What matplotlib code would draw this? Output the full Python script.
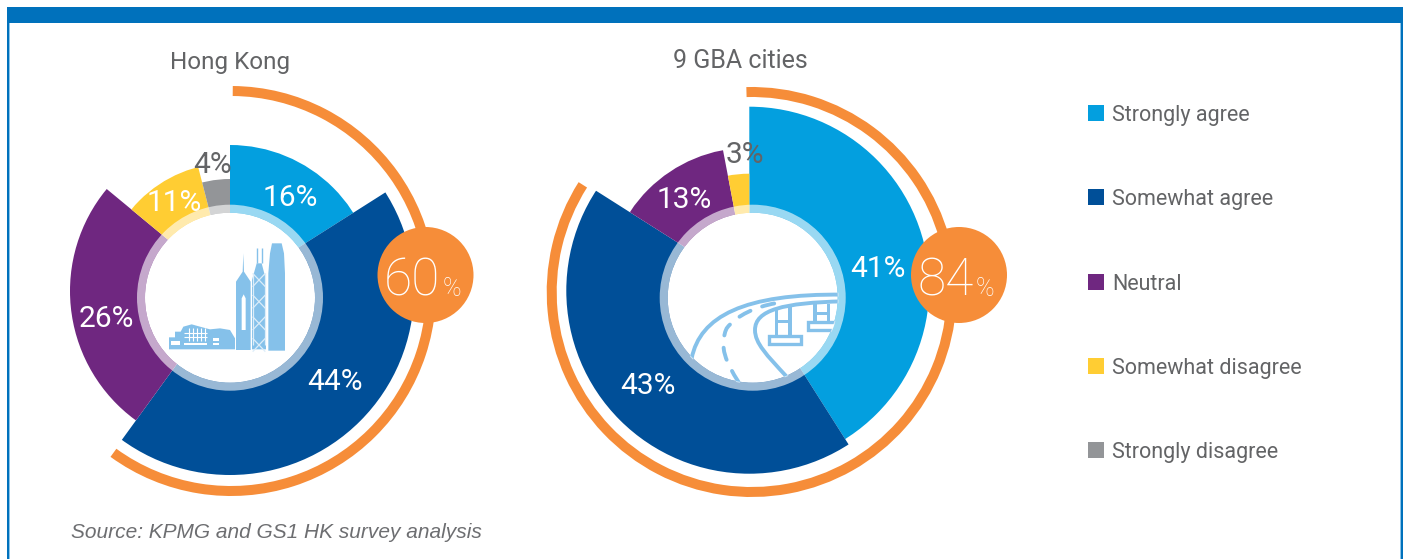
import numpy as np
import matplotlib
matplotlib.use('Agg')
import matplotlib.pyplot as plt
from matplotlib.patches import Wedge, Circle, Rectangle, Polygon, PathPatch
from matplotlib.path import Path

categories = ['Strongly agree', 'Somewhat agree', 'Neutral', 'Somewhat disagree', 'Strongly disagree']
colors = ['#039fdf', '#004f98', '#6f2780', '#ffcd33', '#939598']
titles = ['Hong Kong', '9 GBA cities']
hk_values = [16, 44, 26, 11, 4]
gba_values = [41, 43, 13, 3, 0]
hk_agree = 60
gba_agree = 84
# printed hk labels add up to 101, the yellow slice is really drawn as 10
hk_sweep = [16, 44, 26, 10, 4]
gba_sweep = [41, 43, 13, 3, 0]
source = 'Source: KPMG and GS1 HK survey analysis'

TEXT = '#636466'
ORANGE = '#f68d39'
ICON = '#85c1ea'
FONT = ['Roboto', 'DejaVu Sans']

fig = plt.figure(figsize=(14.07, 5.59), dpi=100)
ax = fig.add_axes([0, 0, 1, 1])
ax.set_xlim(0, 1407)
ax.set_ylim(559, 0)
ax.axis('off')


def sector(apex, arc_c, r, a0, a1, color):
    '''slice from apex, its round edge is cut by a circle which may sit off the apex'''
    w = Wedge(apex, 400, -90 + a0 * 3.6, -90 + a1 * 3.6, fc=color, ec='none', zorder=2)
    ax.add_patch(w)
    w.set_clip_path(Circle(arc_c, r, transform=ax.transData))


def donut(apex, arc_centers, radii, sweep, values, label_pos, ring_c):
    start = 0
    for i in range(len(sweep)):
        if sweep[i] > 0:
            sector(apex, arc_centers[i], radii[i], start, start + sweep[i], colors[i])
        start += sweep[i]
    ax.add_patch(Circle(ring_c, 85, fc='white', ec='none', zorder=3))
    ax.add_patch(Wedge(ring_c, 93, 0, 360, width=8, fc='white', ec='none', alpha=0.6, zorder=5))
    for i in range(len(values)):
        if values[i] > 0:
            c = TEXT if values[i] <= 4 else 'white'
            ax.text(label_pos[i][0], label_pos[i][1], str(values[i]) + '%', color=c, fontsize=21.5,
                    family=FONT, ha='center', va='baseline', zorder=6)


def agree_arc(center, agree, bubble, start=0):
    ax.add_patch(Wedge(center, 205, -90 + start, -90 + agree * 3.6, width=10, fc=ORANGE, ec='none', zorder=1))
    ax.add_patch(Circle(bubble, 48, fc=ORANGE, ec='none', zorder=7))
    ax.text(bubble[0] + 15, 296, str(agree), color='white', fontsize=37, family=FONT,
            weight=100, ha='right', va='baseline', zorder=8)
    ax.text(bubble[0] + 17, 296, '%', color='white', fontsize=18, family=FONT,
            weight=100, ha='left', va='baseline', zorder=8)


# frame
ax.add_patch(Rectangle((7, 7), 1396, 16, fc='#0071bc', ec='none', zorder=1))
ax.add_patch(Rectangle((7, 23), 1.6, 540, fc='#0071bc', ec='none', zorder=1))
ax.add_patch(Rectangle((8.6, 23), 1.6, 540, fc='#8cc4e8', ec='none', zorder=1))
ax.add_patch(Rectangle((1400, 23), 1.2, 540, fc='#8cc4e8', ec='none', zorder=1))
ax.add_patch(Rectangle((1401.2, 23), 1.6, 540, fc='#0071bc', ec='none', zorder=1))

# hong kong
hk_apex = (230, 291)
donut(hk_apex, [hk_apex] * 5, [146, 184, 160, 128, 112], hk_sweep, hk_values,
      [(290, 206), (335, 390), (106, 327), (174, 211), (213, 173)], (230, 297.7))
agree_arc((231, 291), hk_agree, (425.5, 275), start=0.5)

# gba
g_apex = (749.3, 288)
g_low = (749.3, 290.7)
donut(g_apex, [(749.3, 286.7), g_low, g_low, g_low, g_low], [180, 183, 143, 117, 100], gba_sweep, gba_values,
      [(878, 277), (648, 394), (684, 208), (745, 163), (0, 0)], (752.7, 297.7))
agree_arc((751.7, 292), gba_agree, (959, 275), start=-1.5)


# skyline icon, zoom coordinates of the crop at (160,230)
def sky(x, y):
    return (160 + x / 3, 230 + y / 3)


def sky_poly(pts, color=ICON):
    ax.add_patch(Polygon([sky(*p) for p in pts], closed=True, fc=color, ec='none', zorder=4))


def sky_line(pts, lw=1.0, color=ICON):
    xy = np.array([sky(*p) for p in pts])
    ax.plot(xy[:, 0], xy[:, 1], color=color, lw=lw, zorder=4, solid_capstyle='butt')


sky_poly([(325, 362), (325, 130), (330, 70), (336, 40), (365, 40), (372, 70), (375, 130), (375, 362)])
sky_poly([(276, 358), (276, 150), (290, 100), (305, 100), (318, 150), (318, 358)])
sky_line([(290, 55), (290, 100)])
sky_line([(305, 55), (305, 100)])
for y0 in [105, 170, 235, 300]:
    sky_line([(278, y0 + 25), (316, y0 + 65)], 0.9, '#dcedf9')
    sky_line([(316, y0 + 25), (278, y0 + 65)], 0.9, '#dcedf9')
sky_line([(279, 130), (279, 345)], 0.9, '#dcedf9')
sky_line([(315, 130), (315, 345)], 0.9, '#dcedf9')
sky_poly([(228, 360), (228, 155), (248, 125), (250, 70), (252, 125), (272, 155), (272, 360)])
sky_poly([(245, 300), (245, 205), (251, 193), (257, 205), (257, 300)], 'white')
sky_poly([(27, 358), (27, 322), (45, 322), (45, 305), (62, 305), (70, 290), (95, 283), (120, 290), (150, 298),
          (180, 295), (210, 300), (225, 325), (225, 358)])
sky_poly([(33, 333), (60, 333), (60, 345), (33, 345)], 'white')
sky_poly([(158, 324), (178, 324), (178, 334), (158, 334)], 'white')
sky_poly([(158, 338), (178, 338), (178, 345), (158, 345)], 'white')
sky_poly([(72, 338), (142, 338), (142, 345), (72, 345)], 'white')
for x0 in [86, 98, 110, 122, 134]:
    sky_line([(x0, 293), (x0, 332)], 0.8, 'white')
for y0 in [308, 322]:
    sky_line([(72, y0), (142, y0)], 0.8, 'white')


# bridge icon, zoom coordinates of the crop at (680,280)
def br(x, y):
    return (680 + x / 3, 280 + y / 3)


clip_bridge = Circle((752.7, 297.7), 86, transform=ax.transData)


def curve(pts, lw=2.8, ls='-'):
    codes = [Path.MOVETO] + [Path.CURVE4] * (len(pts) - 1)
    p = PathPatch(Path([br(*q) for q in pts], codes), fc='none', ec=ICON, lw=lw, ls=ls, zorder=4, capstyle='round')
    ax.add_patch(p)
    p.set_clip_path(clip_bridge)


curve([(35, 235), (60, 110), (190, 40), (490, 44)])
curve([(320, 290), (260, 225), (225, 190), (225, 150), (225, 90), (310, 68), (490, 64)])
curve([(175, 305), (140, 250), (115, 200), (140, 145), (170, 105), (230, 80), (285, 70)], lw=2.8, ls=(0, (3.2, 3.2)))
for x0, x1, y0, y1 in [(285, 295, 85, 170), (325, 335, 78, 170), (400, 410, 72, 130), (440, 450, 72, 130)]:
    ax.add_patch(Rectangle(br(x0, y0), (x1 - x0) / 3, (y1 - y0) / 3, fc=ICON, ec='none', zorder=4))
for y0, x0, x1 in [(120, 290, 330), (96, 405, 445)]:
    ax.add_patch(Rectangle(br(x0, y0), (x1 - x0) / 3, 10 / 3, fc=ICON, ec='none', zorder=4))
for x0, x1, y0, y1 in [(268, 362, 168, 192), (385, 470, 125, 150)]:
    p = Rectangle(br(x0, y0), (x1 - x0) / 3, (y1 - y0) / 3, fc='white', ec=ICON, lw=2.4, zorder=4)
    ax.add_patch(p)
    p.set_clip_path(clip_bridge)

# titles, legend, source
ax.text(230, 68.5, titles[0], color=TEXT, fontsize=17.5, family=FONT, ha='center', va='baseline')
ax.text(740, 68.5, titles[1], color=TEXT, fontsize=18, family=FONT, ha='center', va='baseline')
legend_y = [105, 189, 274, 358, 442]
for i in range(len(categories)):
    ax.add_patch(Rectangle((1088, legend_y[i]), 16, 16, fc=colors[i], ec='none'))
    ax.text(1112, legend_y[i] + 16, categories[i], color=TEXT, fontsize=15.5, family=FONT, ha='left', va='baseline')
ax.text(71, 538, source, color='#6d6e71', fontsize=15, family=['Liberation Sans', 'DejaVu Sans'],
        style='italic', ha='left', va='baseline')

fig.savefig('out.png', dpi=100)
